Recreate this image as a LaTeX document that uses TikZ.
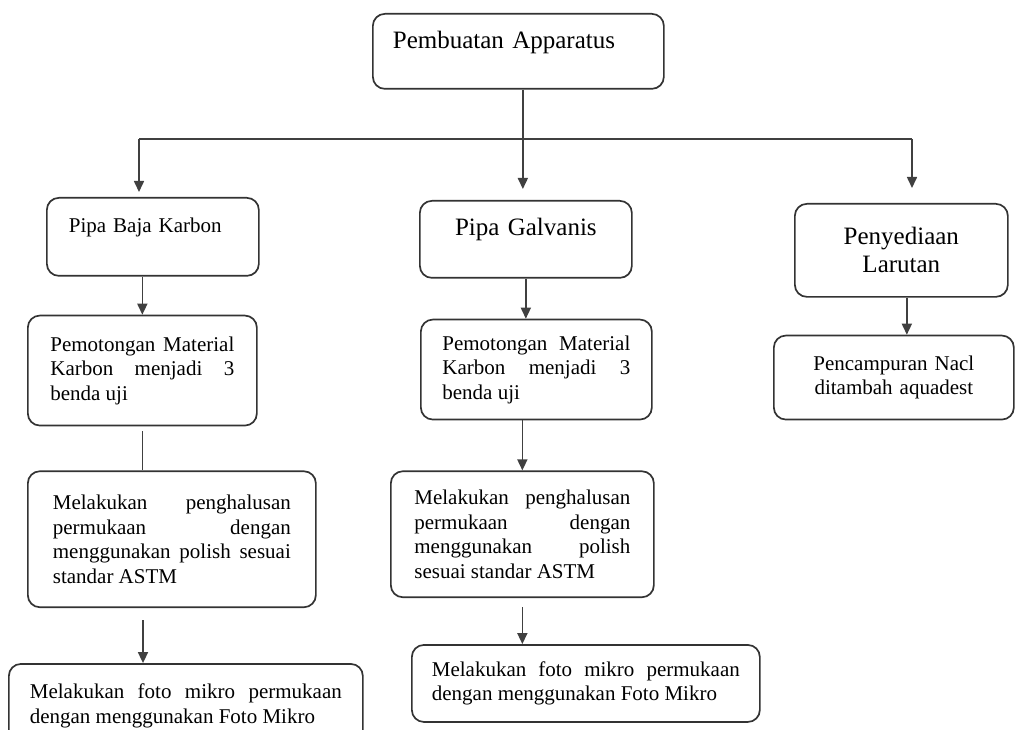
\documentclass[tikz,border=0pt]{standalone}
\usepackage{fontspec}
\setmainfont{Liberation Serif}
\usepackage{tikz}
\usetikzlibrary{positioning}
\usetikzlibrary{arrows.meta}

\tolerance=10000
\hbadness=10000
\hyphenpenalty=10000

\begin{document}
\begin{tikzpicture}[
    x=1pt, y=-1pt,
    kotak/.style={draw=black!80, line width=1.7pt, rounded corners=12pt,
        inner xsep=20pt, inner ysep=0pt, align=justify,
        font=\fontsize{21}{24.5}\selectfont},
    judul/.style={kotak, font=\fontsize{25}{28}\selectfont},
    garis/.style={draw=black!75, line width=1.6pt},
    panah/.style={garis, -{Triangle[length=11pt,width=10pt]}}]
    \useasboundingbox (0,0) rectangle (1015,730);

    % Riquadro principale e prima riga
    \node [judul, anchor=north west, text width=251pt, align=left,
        text height=35pt, text depth=40pt] (apparatus) at (372,13) {Pembuatan Apparatus};
    \node [kotak, anchor=north west, text width=168pt, minimum width=212pt, align=left,
        text height=35pt, text depth=43pt] (pipabaja) at (46,197) {Pipa Baja Karbon};
    \node [judul, anchor=north west, text width=172pt, align=center,
        text height=35pt, text depth=42pt] (galvanis) at (419,200) {Pipa Galvanis};
    \node [judul, anchor=north west, text width=173pt, align=center,
        minimum height=93pt] (larutan) at (794,203) {Penyediaan\\Larutan};

    % Colonna sinistra
    \node [kotak, below=38pt of pipabaja, xshift=-10.5pt, text width=184pt,
        minimum width=229pt, minimum height=110pt] (potong1)
        {Pemotongan Material\linebreak Karbon menjadi 3\linebreak benda uji};
    \node [kotak, below=44pt of potong1, xshift=29.5pt, text width=238pt,
        minimum width=288pt, minimum height=136pt] (haluskan1)
        {Melakukan penghalusan\linebreak permukaan dengan\linebreak menggunakan polish sesuai\linebreak standar ASTM};
    \node [kotak, below=55pt of haluskan1, xshift=14pt, text width=312pt,
        minimum width=354pt, minimum height=84pt] (foto1)
        {Melakukan foto mikro permukaan\linebreak dengan menggunakan Foto Mikro};

    % Colonna centrale
    \node [kotak, below=40pt of galvanis, xshift=10.5pt, text width=188pt,
        minimum width=231pt, minimum height=100pt] (potong2)
        {Pemotongan Material\linebreak Karbon menjadi 3\linebreak benda uji};
    \node [kotak, below=50pt of potong2, xshift=-14pt, text width=216pt,
        minimum width=263pt, minimum height=126pt] (haluskan2)
        {Melakukan penghalusan\linebreak permukaan dengan\linebreak menggunakan polish\linebreak sesuai standar ASTM};
    \node [kotak, below=46pt of haluskan2, xshift=63.5pt, text width=308pt,
        minimum width=348pt, minimum height=77pt] (foto2)
        {Melakukan foto mikro permukaan\linebreak dengan menggunakan Foto Mikro};

    % Colonna destra
    \node [kotak, below=37pt of larutan, xshift=-7.5pt, align=center, text width=200pt,
        minimum width=240pt, minimum height=84pt] (campur)
        {Pencampuran Nacl\\ditambah aquadest};

    % Linea orizzontale e frecce in alto
    \coordinate (turun) at ([xshift=4.5pt]apparatus.south);
    \coordinate (kiri) at (139,139);
    \coordinate (kanan) at (912,139);
    \draw [garis, line width=2.4pt] (kiri) -- (kanan);
    \draw [panah, shorten >=11pt] (turun) -- (turun |- galvanis.north);
    \draw [panah, shorten >=5pt] (kiri) -- (kiri |- pipabaja.north);
    \draw [panah, shorten >=15pt] (kanan) -- (kanan |- larutan.north);

    % Frecce a sinistra
    \draw [panah] (pipabaja.south -| potong1.north) -- (potong1.north);
    \draw [garis, shorten <=5pt] (potong1.south) -- (potong1.south |- haluskan1.north);
    \coordinate (lepas) at (143,620);
    \draw [panah] (lepas) -- (lepas |- foto1.north);

    % Frecce al centro
    \draw [panah] (galvanis.south) -- (galvanis.south |- potong2.north);
    \draw [panah] (potong2.south -| haluskan2.north) -- (haluskan2.north);
    \draw [panah, shorten <=9pt] (haluskan2.south) -- (haluskan2.south |- foto2.north);

    % Freccia a destra
    \coordinate (tengah) at ([xshift=5.5pt]larutan.south);
    \draw [panah] (tengah) -- (tengah |- campur.north);
\end{tikzpicture}
\end{document}
